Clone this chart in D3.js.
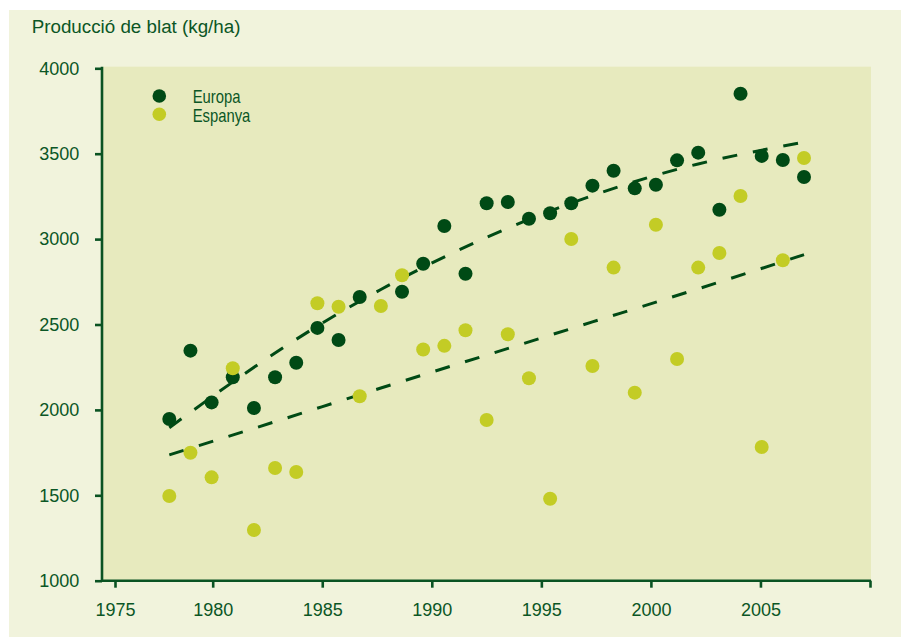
<!DOCTYPE html>
<html>
<head>
<meta charset="utf-8">
<script src="https://cdn.jsdelivr.net/npm/d3@7/dist/d3.min.js"></script>
<style>
  html, body { margin: 0; padding: 0; background: #ffffff; }
  svg { display: block; font-family: "Liberation Sans", Arial, sans-serif; }
</style>
</head>
<body>
<svg id="chart" width="901" height="637"></svg>
<script>
// ---- data ----
const years = [1977, 1978, 1979, 1980, 1981, 1982, 1983, 1984, 1985, 1986,
               1987, 1988, 1989, 1990, 1991, 1992, 1993, 1994, 1995, 1996,
               1997, 1998, 1999, 2000, 2001, 2002, 2003, 2004, 2005, 2006, 2007];
const europa = [1947, 2347, 2044, 2191, 2011, 2191, 2276, 2480, 2409, 2661,
                null, 2692, 2856, 3077, 2797, 3210, 3217, 3119, 3151, 3210,
                3313, 3400, 3297, 3318, 3461, 3506, 3172, 3851, 3487, 3463, 3364];
const espanya = [1496, 1749, 1605, 2244, 1297, 1660, 1636, 2624, 2604, 2080,
                 2608, 2788, 2354, 2375, 2466, 1941, 2443, 2185, 1480, 3001,
                 2257, 2833, 2101, 3084, 2298, 2833, 2919, 3252, 1783, 2876, 3475];
const trendYears = [1977, 1982, 1987, 1992, 1997, 2002, 2007];
const europaTrend = [1896, 2333, 2705, 3010, 3255, 3440, 3568];
const espanyaTrend = [1737, 1931, 2128, 2321, 2515, 2709, 2909];
const xTickLabels = [1975, 1980, 1985, 1990, 1995, 2000, 2005, 2010];
const yTicks = [1000, 1500, 2000, 2500, 3000, 3500, 4000];
const seriesNames = ["Europa", "Espanya"];
const title = "Producció de blat (kg/ha)";

// ---- style ----
const C = {
  page: "#ffffff", panel: "#f1f3dc", plot: "#e7eabe",
  dark: "#004a15", light: "#c3cc25", text: "#0b5625", axis: "#0a5322"
};

const svg = d3.select("#chart");
const W = 901, H = 637;
const plot = { left: 102, right: 870, top: 68.3, bottom: 580.7 };

svg.append("rect").attr("width", W).attr("height", H).attr("fill", C.page);
svg.append("rect").attr("x", 9).attr("y", 10).attr("width", W - 9).attr("height", H - 10).attr("fill", C.panel);

// scales
const y = d3.scaleLinear().domain([1000, 4000]).range([plot.bottom, plot.top]);
const xData = d3.scaleLinear().domain([1977, 2007]).range([169.3, 804]);
const xAxisScale = d3.scaleLinear().domain([1975, 1980, 2010]).range([115, 212.7, plot.right]);

// plot background
svg.append("rect")
  .attr("x", plot.left + 1).attr("y", plot.top - 1.6)
  .attr("width", plot.right + 1 - plot.left - 1)
  .attr("height", plot.bottom - plot.top + 1.6)
  .attr("fill", C.plot);

// title
svg.append("text")
  .attr("x", 31.7).attr("y", 33.3)
  .attr("fill", C.text).attr("font-size", 18.8)
  .text(title);

// y axis
const yAxis = svg.append("g")
  .attr("transform", `translate(${plot.left},0)`)
  .call(d3.axisLeft(y).tickValues(yTicks).tickSize(7).tickPadding(15.7).tickSizeOuter(0).tickFormat(d3.format("d")));
yAxis.select(".domain").attr("stroke", C.axis).attr("stroke-width", 2.6)
  .attr("d", `M0,${plot.top - 1.6}V${plot.bottom + 1}`);
yAxis.selectAll(".tick line").attr("stroke", C.axis).attr("stroke-width", 2.6);
yAxis.selectAll(".tick text").attr("fill", C.text).attr("font-size", 18)
  .attr("font-family", "'Liberation Sans', Arial, sans-serif");

// x axis
const xAxis = svg.append("g")
  .attr("transform", `translate(0,${plot.bottom})`)
  .call(d3.axisBottom(xAxisScale).tickValues(xTickLabels).tickSize(7).tickPadding(16)
    .tickSizeOuter(0).tickFormat(d => d === 2010 ? "" : String(d)));
xAxis.select(".domain").attr("stroke", C.axis).attr("stroke-width", 2.6)
  .attr("d", `M${plot.left - 1},0H${plot.right + 1}`);
xAxis.selectAll(".tick line").attr("stroke", C.axis).attr("stroke-width", 2.6);
xAxis.selectAll(".tick text").attr("fill", C.text).attr("font-size", 18)
  .attr("font-family", "'Liberation Sans', Arial, sans-serif");

// trend lines
const trendLine = d3.line()
  .x((d, i) => xData(trendYears[i]))
  .y(d => y(d))
  .curve(d3.curveNatural);
[europaTrend, espanyaTrend].forEach(t => {
  svg.append("path")
    .attr("d", trendLine(t))
    .attr("fill", "none")
    .attr("stroke", C.dark)
    .attr("stroke-width", 3)
    .attr("stroke-dasharray", "15,16");
});

// points
svg.append("g").selectAll("circle")
  .data(europa.map((v, i) => ({ yr: years[i], v })).filter(d => d.v != null))
  .join("circle")
  .attr("cx", d => xData(d.yr)).attr("cy", d => y(d.v))
  .attr("r", 7).attr("fill", C.dark);
svg.append("g").selectAll("circle")
  .data(espanya.map((v, i) => ({ yr: years[i], v })))
  .join("circle")
  .attr("cx", d => xData(d.yr)).attr("cy", d => y(d.v))
  .attr("r", 7).attr("fill", C.light);

// legend
const legend = svg.append("g");
[C.dark, C.light].forEach((col, i) => {
  legend.append("circle").attr("cx", 159.3).attr("cy", 96 + i * 18.3).attr("r", 6.8).attr("fill", col);
  legend.append("text")
    .attr("transform", `translate(192.7,${103.3 + i * 18.3}) scale(0.8,1)`)
    .attr("fill", C.text).attr("font-size", 18.5)
    .text(seriesNames[i]);
});
</script>
</body>
</html>
